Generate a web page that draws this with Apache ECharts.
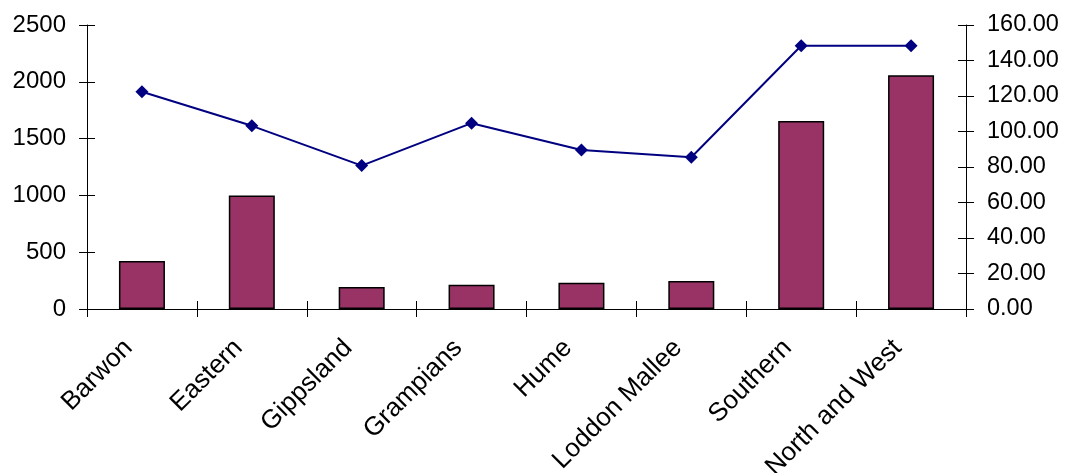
<!DOCTYPE html>
<html>
<head>
<meta charset="utf-8">
<script src="https://cdn.jsdelivr.net/npm/echarts@6/dist/echarts.min.js"></script>
<style>
html,body{margin:0;padding:0;background:#fff;}
#chart{width:1067px;height:473px;}
</style>
</head>
<body>
<div id="chart"></div>
<script>
var categories = ['Barwon', 'Eastern', 'Gippsland', 'Grampians', 'Hume', 'Loddon Mallee', 'Southern', 'North and West'];
var barValues = [422, 1000, 193, 214, 231, 246, 1656, 2058];
var lineValues = [122.4, 103.2, 80.8, 104.7, 89.6, 85.5, 148.3, 148.3];
var leftTicks = { min: 0, max: 2500, interval: 500 };
var rightTicks = { min: 0, max: 160, interval: 20 };

var FONT = '"Liberation Sans", Arial, sans-serif';
var axisLineStyle = { color: '#000', width: 1 };

var chart = echarts.init(document.getElementById('chart'), null, { renderer: 'canvas' });
chart.setOption({
  animation: false,
  backgroundColor: '#fff',
  grid: { left: 87, right: 101, top: 25, bottom: 164, containLabel: false, outerBoundsMode: 'none' },
  xAxis: [
    {
      type: 'category',
      data: categories,
      position: 'bottom',
      axisLine: { show: true, lineStyle: axisLineStyle },
      axisTick: { show: true, length: 8, inside: false, lineStyle: axisLineStyle },
      axisLabel: {
        rotate: 45, interval: 0, margin: 40, verticalAlign: 'bottom', padding: [0, 6, 0, 0],
        fontSize: 26, color: '#000', fontFamily: FONT, hideOverlap: false
      },
      splitLine: { show: false }
    },
    {
      type: 'category',
      data: categories,
      position: 'bottom',
      axisLine: { show: false },
      axisTick: { show: true, length: 8, inside: true, lineStyle: axisLineStyle },
      axisLabel: { show: false },
      splitLine: { show: false }
    }
  ],
  yAxis: [
    {
      type: 'value', position: 'left',
      min: leftTicks.min, max: leftTicks.max, interval: leftTicks.interval,
      axisLine: { show: true, lineStyle: axisLineStyle },
      axisTick: { show: true, length: 8, inside: false, lineStyle: axisLineStyle },
      axisLabel: {
        margin: 21, fontSize: 24, color: '#000', fontFamily: FONT,
        formatter: function (v) { return String(v); }
      },
      splitLine: { show: false }
    },
    {
      type: 'value', position: 'right',
      min: rightTicks.min, max: rightTicks.max, interval: rightTicks.interval,
      axisLine: { show: true, lineStyle: axisLineStyle },
      axisTick: { show: true, length: 8, inside: false, lineStyle: axisLineStyle },
      axisLabel: {
        margin: 21, fontSize: 23.5, color: '#000', fontFamily: FONT,
        formatter: function (v) { return v.toFixed(2); }
      },
      splitLine: { show: false }
    },
    {
      type: 'value', position: 'left',
      min: leftTicks.min, max: leftTicks.max, interval: leftTicks.interval,
      axisLine: { show: false },
      axisTick: { show: true, length: 8, inside: true, lineStyle: axisLineStyle },
      axisLabel: { show: false },
      splitLine: { show: false }
    },
    {
      type: 'value', position: 'right',
      min: rightTicks.min, max: rightTicks.max, interval: rightTicks.interval,
      axisLine: { show: false },
      axisTick: { show: true, length: 8, inside: true, lineStyle: axisLineStyle },
      axisLabel: { show: false },
      splitLine: { show: false }
    }
  ],
  series: [
    {
      type: 'bar',
      data: barValues,
      xAxisIndex: 0, yAxisIndex: 0,
      barWidth: 46,
      itemStyle: { color: '#993366', borderColor: '#000', borderWidth: 1.5 }
    },
    {
      type: 'line',
      data: lineValues,
      xAxisIndex: 0, yAxisIndex: 1,
      symbol: 'diamond', symbolSize: 13,
      lineStyle: { color: '#000080', width: 2 },
      itemStyle: { color: '#000080' }
    }
  ]
});
</script>
</body>
</html>
